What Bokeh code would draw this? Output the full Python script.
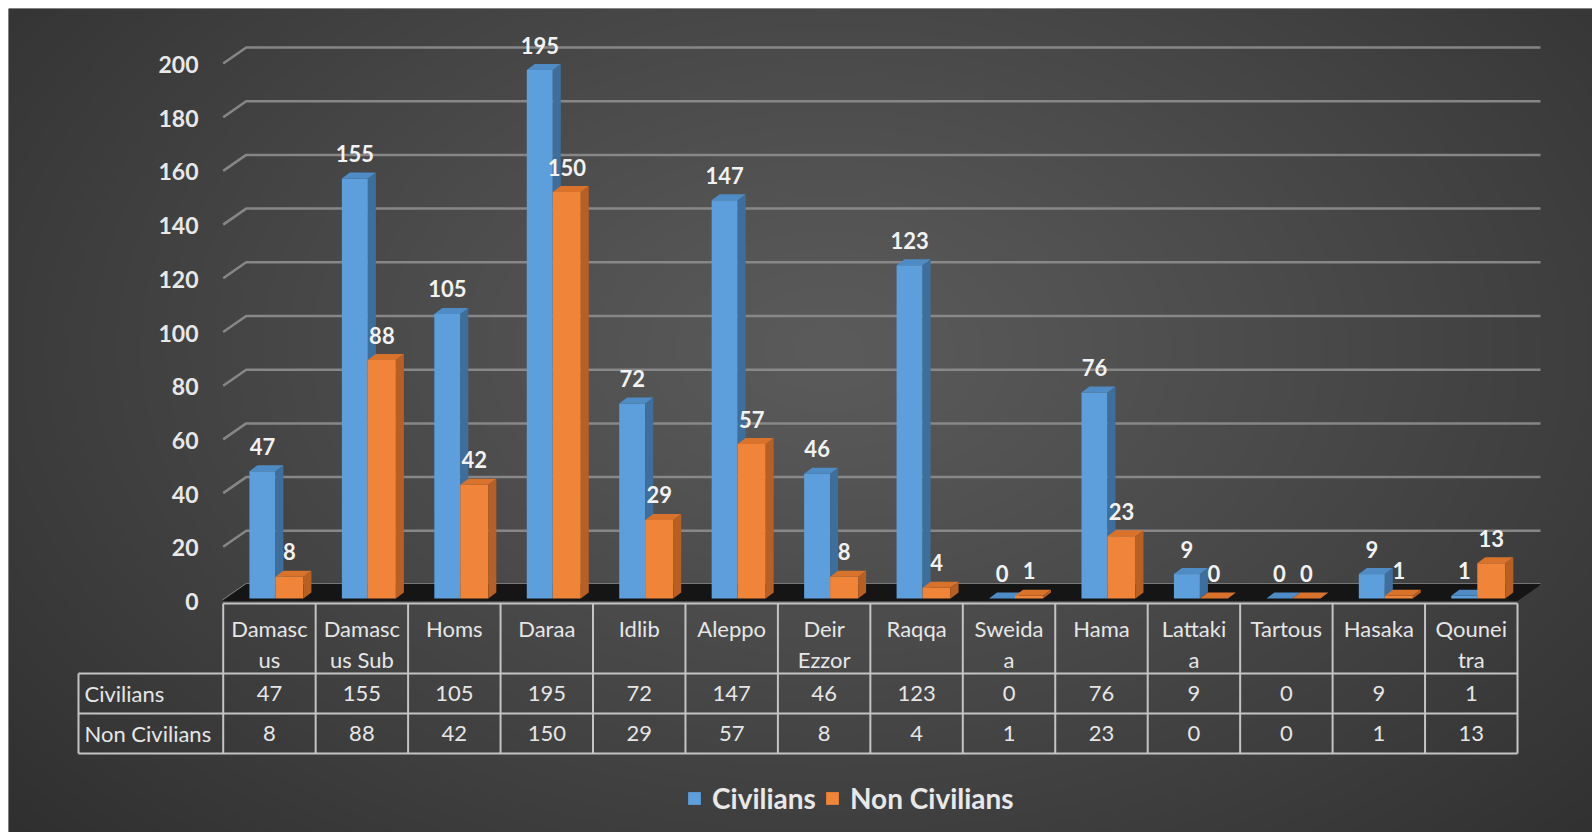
import numpy as np
from bokeh.plotting import figure
from bokeh.models import Range1d, Legend, LegendItem, ColumnDataSource
from bokeh.core.properties import value
from bokeh.embed import file_html
from bokeh.resources import INLINE

# ---------------- data ----------------
categories = ["Damasc\nus", "Damasc\nus Sub", "Homs", "Daraa", "Idlib", "Aleppo",
              "Deir\nEzzor", "Raqqa", "Sweida\na", "Hama", "Lattaki\na", "Tartous",
              "Hasaka", "Qounei\ntra"]
civilians = [47, 155, 105, 195, 72, 147, 46, 123, 0, 76, 9, 0, 9, 1]
non_civilians = [8, 88, 42, 150, 29, 57, 8, 4, 1, 23, 0, 0, 1, 13]
series_names = ["Civilians", "Non Civilians"]
y_ticks = [0, 20, 40, 60, 80, 100, 120, 140, 160, 180, 200]

# ---------------- layout (pixels -> data units) ----------------
MARGIN = 8
W, H = 1584, 824                # frame size
X0_PX, COL_PX = 214.7, 92.45   # frame x of first table column edge, column width
Y0_PX, UNIT_PX = 590.0, 2.71   # frame y of value 0 (bar plane), pixels per unit

def dx(px):
    return (px - X0_PX) / COL_PX

def dy(py):
    return (Y0_PX - py) / UNIT_PX

def front(v, shift=0.0):
    # front plane of the 3D axis (slightly different perspective than bars)
    return dy(592.0 + shift - 2.685 * v)

n = len(categories)
FONT = value("Lato")

p = figure(width=W + MARGIN, height=H + MARGIN, output_backend="svg", toolbar_location=None,
           x_range=Range1d(dx(0), dx(W)), y_range=Range1d(dy(H), dy(0)),
           x_axis_type=None, y_axis_type=None, min_border=0,
           min_border_left=MARGIN, min_border_top=MARGIN,
           outline_line_color=None, background_fill_color="#3a3a3a",
           border_fill_color="white")
p.grid.visible = False

# ---------------- background radial gradient ----------------
gw, gh = W // 2, H // 2
yy, xx = np.mgrid[0:gh, 0:gw]
cx, cy = 820 / 2, 340 / 2
r = np.sqrt(((xx - cx) / (980 / 2)) ** 2 + ((yy - cy) / (640 / 2)) ** 2)
r = np.clip(r, 0, 1.25) / 1.25
c = (0x5b - (0x5b - 0x2a) * r ** 1.1).astype(np.uint8)
img = np.empty((gh, gw), dtype=np.uint32)
view = img.view(dtype=np.uint8).reshape((gh, gw, 4))
view[:, :, 0] = c
view[:, :, 1] = c
view[:, :, 2] = c
view[:, :, 3] = 255
img = img[::-1]
p.image_rgba(image=[img], x=dx(0), y=dy(H), dw=dx(W) - dx(0), dh=dy(0) - dy(H))

# ---------------- gridlines (3D back wall) ----------------
DEPTH_X = 23 / COL_PX
DEPTH_PX = 16
grid_end = dx(1532)
gxs, gys = [], []
for t in y_ticks:
    gxs.append([0.0, DEPTH_X, grid_end])
    gys.append([front(t), front(t, -DEPTH_PX), front(t, -DEPTH_PX)])
p.multi_line(gxs, gys, line_color="#8e8e8e", line_width=2.5, line_alpha=0.9)

# floor
p.patch([0.0, DEPTH_X, grid_end, n], [front(0), front(0, -DEPTH_PX), front(0, -DEPTH_PX), front(0)],
        fill_color="#151515", line_color="#151515", line_width=1)

# y tick labels
p.text(x=[dx(190)] * len(y_ticks), y=[front(t, 1.0) for t in y_ticks], text=[str(t) for t in y_ticks],
       text_align="right", text_baseline="middle", text_font=FONT,
       text_font_style="bold", text_font_size="23px", text_color="#e8e8e8")

# ---------------- bars ----------------
BW = 26 / COL_PX
OFF_B = -20 / COL_PX
OFF_O = 6 / COL_PX
OW = 28 / COL_PX
BDX = 8 / COL_PX
BDY = 6 / UNIT_PX

def draw_series(vals, off, width, front_c, side_c, top_c):
    left = [i + 0.5 + off for i in range(n)]
    right = [l + width for l in left]
    src = ColumnDataSource(dict(left=left, right=right, top=vals, bottom=[0] * n))
    sxs, sys_, txs, tys = [], [], [], []
    for l, rr, v in zip(left, right, vals):
        sxs.append([rr, rr + BDX, rr + BDX, rr])
        sys_.append([0, BDY, v + BDY, v])
        txs.append([l, l + BDX, rr + BDX, rr])
        tys.append([v, v + BDY, v + BDY, v])
    fr = p.quad(left="left", right="right", top="top", bottom="bottom", source=src,
                fill_color=front_c, line_color=None)
    p.patches(sxs, sys_, fill_color=side_c, line_color=None)
    p.patches(txs, tys, fill_color=top_c, line_color=None)
    return fr, [(l + rr) / 2 for l, rr in zip(left, right)]

r_civ, cx_civ = draw_series(civilians, OFF_B, BW, "#5c9fdc", "#3e6e9c", "#4f8cc6")
r_non, cx_non = draw_series(non_civilians, OFF_O, OW, "#f08438", "#b85f24", "#d9732c")

LAB_OFF = 25 / UNIT_PX
lab_style = dict(text_align="center", text_baseline="middle", text_font=FONT,
                 text_font_style="bold", text_font_size="22px", text_color="#f2f2f2")
p.text(x=cx_civ, y=[v + LAB_OFF for v in civilians], text=[str(v) for v in civilians], **lab_style)
p.text(x=cx_non, y=[v + LAB_OFF for v in non_civilians], text=[str(v) for v in non_civilians], **lab_style)

# ---------------- data table ----------------
y_top, y_r1, y_r2, y_bot = dy(595), dy(665), dy(705), dy(745)
x_lab = dx(70)
lxs, lys = [], []
lxs.append([0, n]); lys.append([y_top, y_top])
for yv in (y_r1, y_r2, y_bot):
    lxs.append([x_lab, n]); lys.append([yv, yv])
for i in range(n + 1):
    lxs.append([i, i]); lys.append([y_top, y_bot])
lxs.append([x_lab, x_lab]); lys.append([y_r1, y_bot])
p.multi_line(lxs, lys, line_color="#c4c4c4", line_width=2)

line1 = [c.split("\n")[0] for c in categories]
line2 = [c.split("\n")[1] if "\n" in c else "" for c in categories]
cols = [i + 0.5 for i in range(n)]
tstyle = dict(text_align="center", text_baseline="middle", text_font=FONT,
              text_font_size="22px", text_color="#e6e6e6")
p.text(x=cols, y=[dy(620)] * n, text=line1, **tstyle)
p.text(x=cols, y=[dy(651)] * n, text=line2, **tstyle)
p.text(x=cols, y=[dy(685)] * n, text=[str(v) for v in civilians], **tstyle)
p.text(x=cols, y=[dy(725)] * n, text=[str(v) for v in non_civilians], **tstyle)
p.text(x=[dx(76)] * 2, y=[dy(685), dy(725)], text=series_names,
       text_align="left", text_baseline="middle", text_font=FONT,
       text_font_size="22px", text_color="#e6e6e6")

# ---------------- legend ----------------
legend = Legend(items=[LegendItem(label=series_names[0], renderers=[r_civ]),
                       LegendItem(label=series_names[1], renderers=[r_non])],
                location=(678, 17), orientation="horizontal",
                background_fill_alpha=0, border_line_alpha=0,
                label_text_color="#e8e8e8", label_text_font="Lato",
                label_text_font_style="bold", label_text_font_size="28px",
                glyph_width=16, glyph_height=16, spacing=8, label_standoff=10,
                padding=0, margin=0)
p.add_layout(legend)

open("out.html", "w").write(file_html(p, INLINE))
